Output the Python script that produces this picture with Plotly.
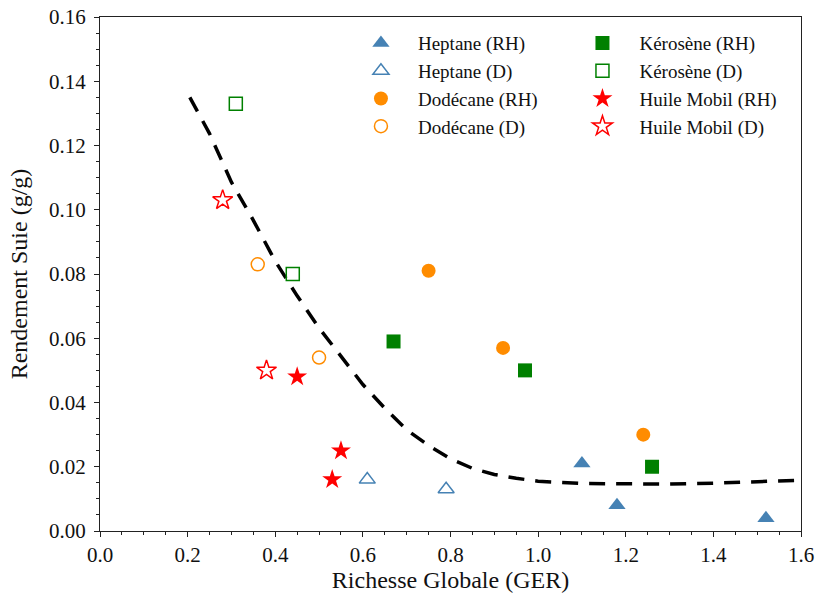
import plotly.graph_objects as go

# ---- data ----
hep_rh_x = [1.10, 1.18, 1.52]
hep_rh_y = [0.021, 0.008, 0.004]
hep_d_x = [0.61, 0.79]
hep_d_y = [0.016, 0.013]

dod_rh_x = [0.75, 0.92, 1.24]
dod_rh_y = [0.081, 0.057, 0.030]
dod_d_x = [0.36, 0.50]
dod_d_y = [0.083, 0.054]

ker_rh_x = [0.67, 0.97, 1.26]
ker_rh_y = [0.059, 0.050, 0.020]
ker_d_x = [0.31, 0.44]
ker_d_y = [0.133, 0.080]

hui_rh_x = [0.45, 0.55, 0.53]
hui_rh_y = [0.048, 0.025, 0.016]
hui_d_x = [0.28, 0.38]
hui_d_y = [0.103, 0.050]

fit_x = [0.205, 0.25, 0.30, 0.35, 0.40, 0.45, 0.50, 0.55, 0.60, 0.65, 0.70, 0.75,
         0.80, 0.85, 0.90, 0.95, 1.00, 1.10, 1.20, 1.30, 1.40, 1.50, 1.60]
fit_y = [0.135, 0.1237, 0.1086, 0.0967, 0.0840, 0.0732, 0.0632, 0.0543, 0.0456,
         0.0382, 0.0315, 0.0266, 0.0225, 0.0195, 0.0176, 0.0164, 0.0155, 0.0148,
         0.0146, 0.0146, 0.0149, 0.0154, 0.0158]

BLUE = "#4682B4"
ORANGE = "#FF8C00"
GREEN = "#008000"
RED = "#FF0000"
FONT = "Liberation Serif"

fig = go.Figure()

fig.add_trace(go.Scatter(x=fit_x, y=fit_y, mode="lines", showlegend=False,
                         line=dict(color="black", width=3.5, dash="16px,11px"),
                         hoverinfo="skip"))


def add(name, x, y, symbol, color, size, filled, legend, group):
    fig.add_trace(go.Scatter(
        x=x, y=y, mode="markers", name=name, legend=legend, legendgroup=group,
        marker=dict(symbol=symbol if filled else symbol + "-open", size=size,
                    color=color, line=dict(width=1.5 if not filled else 0, color=color))))


add("Heptane (RH)", hep_rh_x, hep_rh_y, "triangle-up", BLUE, 15, True, "legend", "a")
add("Heptane (D)", hep_d_x, hep_d_y, "triangle-up", BLUE, 14, False, "legend", "b")
add("Dodécane (RH)", dod_rh_x, dod_rh_y, "circle", ORANGE, 14, True, "legend", "c")
add("Dodécane (D)", dod_d_x, dod_d_y, "circle", ORANGE, 13, False, "legend", "d")
add("Kérosène (RH)", ker_rh_x, ker_rh_y, "square", GREEN, 14, True, "legend2", "e")
add("Kérosène (D)", ker_d_x, ker_d_y, "square", GREEN, 13, False, "legend2", "f")
add("Huile Mobil (RH)", hui_rh_x, hui_rh_y, "star", RED, 15, True, "legend2", "g")
add("Huile Mobil (D)", hui_d_x, hui_d_y, "star", RED, 15, False, "legend2", "h")

axis_common = dict(showline=True, linecolor="#222", linewidth=1.2, mirror=True,
                   ticks="outside", ticklen=5, tickcolor="#222", showgrid=False,
                   zeroline=False, automargin=False,
                   tickfont=dict(family=FONT, size=21, color="#111"))

fig.update_xaxes(range=[0, 1.6], dtick=0.2, tickformat=".1f",
                 minor=dict(dtick=0.05, ticks="outside", ticklen=3, tickcolor="#222"),
                 title=dict(text="Richesse Globale (GER)", standoff=6,
                            font=dict(family=FONT, size=24, color="#111")),
                 **axis_common)
fig.update_yaxes(range=[0, 0.16], dtick=0.02, tickformat=".2f", ticklabelstandoff=4,
                 minor=dict(dtick=0.005, ticks="outside", ticklen=3, tickcolor="#222"),
                 title=dict(text="Rendement Suie (g/g)", standoff=14,
                            font=dict(family=FONT, size=24, color="#111")),
                 **axis_common)

leg_common = dict(font=dict(family=FONT, size=19, color="#111"), bgcolor="rgba(0,0,0,0)",
                  yanchor="top", xanchor="left", tracegroupgap=0, itemwidth=64)
fig.update_layout(
    width=816, height=593,
    margin=dict(l=100, r=15, t=17, b=62),
    paper_bgcolor="white", plot_bgcolor="white",
    legend=dict(x=0.348, y=0.986, **leg_common),
    legend2=dict(x=0.664, y=0.986, **leg_common),
)

fig.write_html("out.html", config={"displayModeBar": False},
               post_script="document.body.style.margin='0px';")
